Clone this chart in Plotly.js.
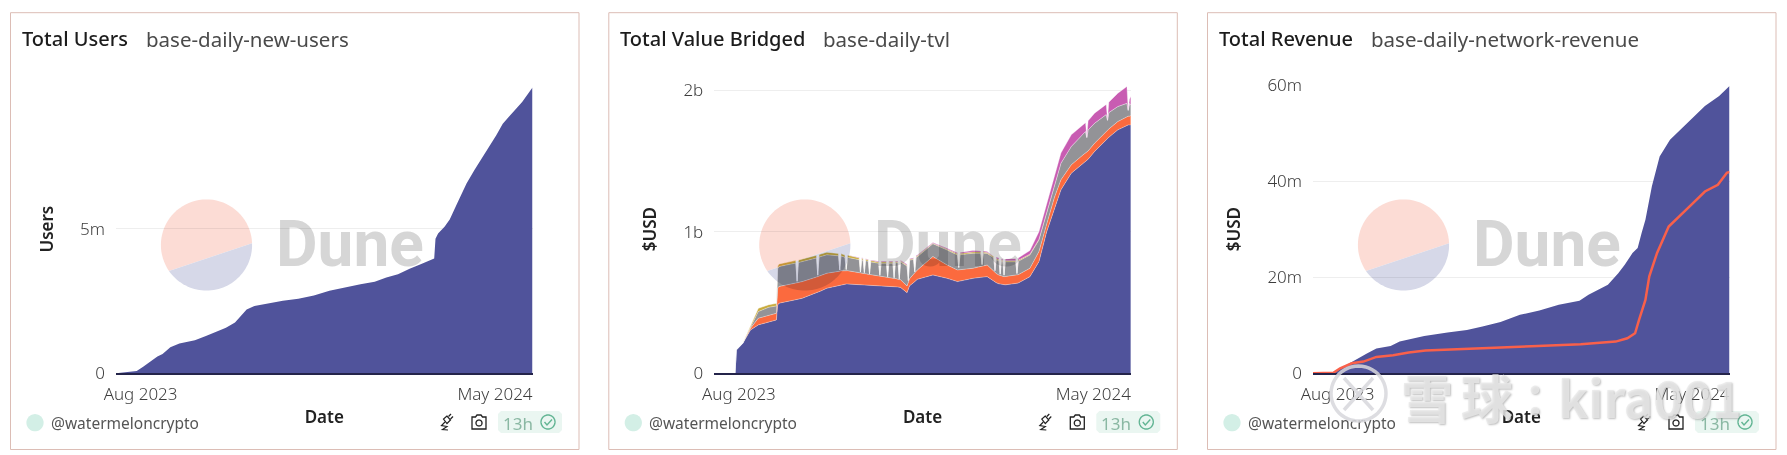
<!DOCTYPE html>
<html>
<head>
<meta charset="utf-8">
<script src="https://cdn.plot.ly/plotly-3.0.1.min.js"></script>
<style>
html, body { margin: 0; padding: 0; background: #fff; }
#wrap { position: relative; width: 1787px; height: 455px; overflow: hidden; }
#bg, #chart, #mark { position: absolute; left: 0; top: 0; width: 1787px; height: 455px; }
#chart { mix-blend-mode: multiply; }
</style>
</head>
<body>
<div id="wrap">
<div id="bg"></div>
<div id="chart"></div>
<div id="mark"></div>
</div>
<script>
// Total Users
const userDates = ['2023-07-13','2023-07-29','2023-08-03','2023-08-09','2023-08-14','2023-08-18','2023-08-24','2023-08-31','2023-09-12','2023-09-21',
    '2023-09-29','2023-10-06','2023-10-13','2023-10-18','2023-10-22','2023-10-28','2023-11-08','2023-11-19','2023-12-01','2023-12-13',
    '2023-12-25','2024-01-06','2024-01-18','2024-01-29','2024-02-07','2024-02-16','2024-02-25','2024-03-05','2024-03-15','2024-03-16',
    '2024-03-18','2024-03-23','2024-03-27','2024-04-01','2024-04-09','2024-04-15','2024-04-23','2024-05-02','2024-05-07','2024-05-15',
    '2024-05-22','2024-05-30'];
const userValues = [0,0.08,0.23,0.43,0.58,0.67,0.90,1.03,1.14,1.30,
    1.46,1.58,1.76,2.02,2.21,2.33,2.42,2.51,2.58,2.69,
    2.86,2.98,3.08,3.17,3.32,3.43,3.62,3.78,3.97,4.66,
    4.84,5.07,5.32,5.81,6.57,7.03,7.58,8.24,8.64,9.04,
    9.39,9.89].map(v => v * 1e6);

// Total Value Bridged, $m per layer
const tvlDates = ['2023-07-29','2023-07-30','2023-08-04','2023-08-10','2023-08-16','2023-08-24','2023-08-30','2023-08-31','2023-09-01','2023-09-14',
    '2023-09-15','2023-09-16','2023-09-19','2023-09-30','2023-10-01','2023-10-02','2023-10-08','2023-10-17','2023-10-18','2023-10-19',
    '2023-10-22','2023-10-23','2023-10-24','2023-11-02','2023-11-03','2023-11-04','2023-11-05','2023-11-06','2023-11-07','2023-11-09',
    '2023-11-10','2023-11-11','2023-11-17','2023-11-18','2023-11-19','2023-11-23','2023-11-24','2023-11-25','2023-11-28','2023-11-29',
    '2023-11-30','2023-12-02','2023-12-03','2023-12-04','2023-12-09','2023-12-10','2023-12-11','2023-12-14','2023-12-15','2023-12-16',
    '2023-12-17','2023-12-29','2024-01-09','2024-01-17','2024-01-18','2024-01-19','2024-01-29','2024-02-04','2024-02-05','2024-02-06',
    '2024-02-09','2024-02-14','2024-02-15','2024-02-16','2024-02-18','2024-02-19','2024-02-20','2024-02-21','2024-02-22','2024-02-23',
    '2024-03-02','2024-03-03','2024-03-04','2024-03-13','2024-03-20','2024-03-26','2024-04-01','2024-04-06','2024-04-14','2024-04-23',
    '2024-04-25','2024-04-26','2024-04-27','2024-05-02','2024-05-11','2024-05-12','2024-05-13','2024-05-20','2024-05-26','2024-05-27',
    '2024-05-28','2024-05-29','2024-05-30'];
const tvlBlue = [0,165,212,306,342,365,377,483,495,520,
    522,523,530,570,573,576,601,622,624,626,
    630,631,631,627,627,627,626,626,625,624,
    624,623,620,619,618,616,615,615,613,612,
    612,610,608,607,570,603,618,640,650,658,
    664,695,671,648,650,652,671,678,680,681,
    683,652,645,640,632,630,628,624,624,625,
    635,636,638,683,789,1001,1166,1296,1414,1484,
    1500,1506,1512,1567,1649,1658,1667,1720,1750,1755,
    1755,1755,1755];
const tvlOrange = [0,0,0,12,47,47,47,120,118,118,
    118,118,118,110,110,110,106,98,98,98,
    94,94,94,84,82,82,80,80,78,76,
    74,74,68,68,68,64,62,62,59,58,
    58,54,54,54,47,47,50,60,62,64,
    66,130,94,82,82,80,71,76,78,80,
    82,70,68,65,62,60,60,59,59,59,
    59,59,59,59,71,54,78,71,59,59,
    59,59,59,59,59,59,59,59,59,59,
    62,62,66];
const tvlGray = [0,0,0,5,47,54,52,135,141,141,
    10,141,141,135,10,135,130,110,8,105,
    96,8,94,92,6,92,92,5,92,92,
    5,90,90,5,92,98,5,100,106,5,
    110,118,5,126,141,5,130,105,5,98,
    94,90,106,106,15,106,106,95,10,88,
    82,95,10,98,102,10,104,106,10,104,
    94,10,94,94,82,75,87,118,130,153,
    150,100,148,141,120,70,116,106,96,94,
    40,90,75];
const tvlYellow = [0,0,0,7,24,19,19,20,19,19,
    0,19,19,19,0,19,19,17,0,17,
    16,0,16,12,0,12,12,0,10,10,
    0,10,8,0,8,8,0,8,8,0,
    6,6,0,6,6,0,6,6,0,6,
    6,4,6,8,0,8,9,8,0,8,
    6,8,0,8,8,0,8,8,0,8,
    8,0,8,6,5,3,0,0,0,0,
    0,0,0,0,0,0,0,0,0,0,
    0,0,0];
const tvlMagenta = [0,0,0,0,0,0,0,0,0,0,
    0,0,0,0,0,0,0,0,0,0,
    0,0,0,4,0,4,4,0,4,4,
    0,4,6,0,6,6,0,6,6,0,
    6,6,0,6,6,0,6,6,0,6,
    6,5,6,8,0,8,10,8,0,8,
    8,0,9,10,10,0,10,11,0,12,
    14,0,16,25,54,63,71,71,82,59,
    62,5,65,71,72,5,74,94,116,118,
    5,30,59];

// Total Revenue, $m
const revenueDates = ['2023-07-13','2023-07-29','2023-08-02','2023-08-09','2023-08-18','2023-08-24','2023-08-31','2023-09-11','2023-09-18','2023-09-29',
    '2023-10-07','2023-10-25','2023-11-09','2023-11-21','2023-12-05','2023-12-20','2024-01-04','2024-01-19','2024-02-04','2024-02-11',
    '2024-02-26','2024-03-05','2024-03-10','2024-03-16','2024-03-20','2024-03-23','2024-03-26','2024-03-31','2024-04-06','2024-04-14',
    '2024-04-26','2024-05-11','2024-05-22','2024-05-30'];
const revenueValues = [0,0,0.84,1.95,3.34,4.18,5.15,5.71,6.61,7.31,
    7.80,8.49,9.05,9.74,10.72,12.18,13.09,14.27,15.10,16.36,
    18.45,20.88,22.62,25.06,26.1,29.2,32.0,39.0,45.2,48.7,
    51.8,55.7,57.8,59.9].map(v => v * 1e6);
const profitDates = ['2023-07-13','2023-07-29','2023-08-03','2023-08-12','2023-08-21','2023-08-31','2023-09-13','2023-09-25','2023-10-08','2023-10-30',
    '2023-11-29','2023-12-29','2024-02-05','2024-03-03','2024-03-12','2024-03-18','2024-03-21','2024-03-26','2024-03-29','2024-04-04',
    '2024-04-13','2024-04-23','2024-04-28','2024-05-11','2024-05-21','2024-05-28','2024-05-30'];
const profitValues = [0,0.14,1.04,2.09,2.44,3.41,3.76,4.32,4.73,5.01,
    5.29,5.64,6.05,6.61,7.31,8.35,11.1,15.3,20.2,25.1,
    30.6,33.1,34.5,37.9,39.3,41.8,42.0].map(v => v * 1e6);

const W = 1787, H = 455;
const panelShift = [0, 598.3, 1197];
const titles = [['Total Users', 'base-daily-new-users', 143.5],
    ['Total Value Bridged', 'base-daily-tvl', 222.4],
    ['Total Revenue', 'base-daily-network-revenue', 171.7]];
const BLUE = '#50539b', ORANGE = '#fb6a3e', FONT = '"Noto Sans", sans-serif';

function px(x) { return x / W; }
function py(y) { return 1 - y / H; }

function pathOf(points, close) {
    let s = points.map((p, i) => (i ? 'L' : 'M') + px(p[0]).toFixed(5) + ' ' + py(p[1]).toFixed(5)).join(' ');
    return close ? s + ' Z' : s;
}

function arcPoints(cx, cy, r, from, to) {
    let pts = [];
    for (let i = 0; i <= 48; i++) {
        let a = from + (to - from) * i / 48;
        pts.push([cx + r * Math.cos(a), cy + r * Math.sin(a)]);
    }
    return pts;
}

function paperShape(path, fill, line, width) {
    return { type: 'path', xref: 'paper', yref: 'paper', path: path, fillcolor: fill || 'rgba(0,0,0,0)',
        line: { color: line || 'rgba(0,0,0,0)', width: width || 0 } };
}

function label(x, y, text, size, color, anchor, weight, family) {
    return { xref: 'paper', yref: 'paper', x: px(x), y: py(y), text: text, showarrow: false, xanchor: anchor || 'left', yanchor: 'middle',
        font: { family: family || FONT, size: size, color: color, weight: weight || 400 } };
}

// logo, Dune word and card borders sit in a graph behind the traces
let bgShapes = [], bgNotes = [];
panelShift.forEach(function (dx) {
    bgShapes.push({ type: 'rect', xref: 'paper', yref: 'paper', x0: px(10.5 + dx), x1: px(579 + dx), y0: py(449.5), y1: py(12.7),
        fillcolor: '#fff', line: { color: '#dcbdb5', width: 1 } });
    let cx = 206.5 + dx, cy = 245, r = 45.6;
    let a0 = Math.atan2(25, -36.2), a1 = Math.atan2(-1.7, 45.3);
    bgShapes.push(paperShape(pathOf(arcPoints(cx, cy, r, a0, a1 + Math.PI * 2), true), '#fcdcd5'));
    bgShapes.push(paperShape(pathOf(arcPoints(cx, cy, r, a1, a0), true), '#d6d8e8'));
    bgNotes.push(label(350 + dx, 244, 'Dune', 64, '#d6d6d6', 'center', 700, 'Roboto, sans-serif'));
});

Plotly.newPlot('bg', [], {
    width: W, height: H, margin: { l: 0, r: 0, t: 0, b: 0 }, paper_bgcolor: '#fff', plot_bgcolor: 'rgba(0,0,0,0)',
    xaxis: { visible: false }, yaxis: { visible: false }, shapes: bgShapes, annotations: bgNotes, showlegend: false
}, { staticPlot: true, displayModeBar: false });

function makeXAxis(i) {
    let dx = panelShift[i];
    return {
        domain: [px(116 + dx), px(532.5 + dx)], anchor: i ? 'y' + (i + 1) : 'y', type: 'date',
        range: ['2023-07-13', '2024-05-30'], tickmode: 'array',
        tickvals: ['2023-08-01', '2024-05-01'], ticktext: ['Aug 2023', 'May 2024'], tickangle: 0,
        ticklabelstandoff: 5, tickfont: { family: FONT, size: 17, color: '#3d3d3d', weight: 300 },
        showgrid: false, zeroline: false, showline: true, linecolor: '#24244a', linewidth: 1.5, ticks: '',
        title: { text: 'Date', standoff: 7, font: { family: FONT, size: 17, color: '#222', weight: 600 } }
    };
}

function makeYAxis(i, title, top, vals, text) {
    return {
        domain: [py(373.3), py(85)], anchor: i ? 'x' + (i + 1) : 'x', range: [0, top], tickmode: 'array',
        tickvals: vals, ticktext: text, ticklabelstandoff: 10, tickfont: { family: FONT, size: 17, color: '#3d3d3d', weight: 300 },
        showgrid: true, gridcolor: '#eeeeee', gridwidth: 1, zeroline: false, showline: false, ticks: '',
        title: { text: title, standoff: 22, font: { family: FONT, size: 17, color: '#222', weight: 600 } }
    };
}

function area(x, y, xa, ya, color, name, stack) {
    return { x: x, y: y, xaxis: xa, yaxis: ya, type: 'scatter', mode: 'lines', name: name, stackgroup: stack,
        fillcolor: color, line: { color: stack === 'tvl' ? 'rgba(255,255,255,0.55)' : color, width: stack === 'tvl' ? 0.6 : 0 } };
}

const m = v => v * 1e6;
let traces = [
    area(userDates, userValues, 'x', 'y', BLUE, 'Users', 'users'),
    area(tvlDates, tvlBlue.map(m), 'x2', 'y2', BLUE, 'Canonical', 'tvl'),
    area(tvlDates, tvlOrange.map(m), 'x2', 'y2', ORANGE, 'Native', 'tvl'),
    area(tvlDates, tvlGray.map(m), 'x2', 'y2', '#939397', 'Third party', 'tvl'),
    area(tvlDates, tvlYellow.map(m), 'x2', 'y2', '#c9ac3e', 'Other', 'tvl'),
    area(tvlDates, tvlMagenta.map(m), 'x2', 'y2', '#c85cb2', 'Restaked', 'tvl'),
    area(revenueDates, revenueValues, 'x3', 'y3', BLUE, 'Revenue', 'rev'),
    { x: profitDates, y: profitValues, xaxis: 'x3', yaxis: 'y3', type: 'scatter', mode: 'lines', name: 'Profit',
        line: { color: '#f9604a', width: 2.5 } }
];

let shapes = [], notes = [];
titles.forEach(function (t, i) {
    let dx = panelShift[i];
    notes.push(label(20 + dx, 38.5, t[0], 20, '#1c1c1c', 'left', 500));
    notes.push(label(t[2] + dx, 38.5, t[1], 20.5, '#4a4a4a'));
    notes.push(label(48.5 + dx, 423, '@watermeloncrypto', 15.5, '#555'));
    notes.push(label(501 + dx, 423, '13h', 17, '#8ab8a3'));
    shapes.push(paperShape(pathOf(arcPoints(35 + dx, 422.7, 8.6, 0, Math.PI * 2), true), '#d3efe6'));
    // freshness pill
    shapes.push(paperShape(pathOf([[501 + dx, 411], [559 + dx, 411], [562 + dx, 414], [562 + dx, 430], [559 + dx, 433], [501 + dx, 433], [498 + dx, 430], [498 + dx, 414]], true), '#eaf6f1'));
    shapes.push(paperShape(pathOf(arcPoints(548 + dx, 422, 7, 0, Math.PI * 2), true), null, '#63b594', 1.4));
    shapes.push(paperShape(pathOf([[544.5 + dx, 422], [547 + dx, 425], [552 + dx, 419.5]]), null, '#63b594', 1.4));
    // camera
    shapes.push(paperShape(pathOf([[472 + dx, 417], [475.5 + dx, 417], [477 + dx, 415], [481 + dx, 415], [482.5 + dx, 417], [486 + dx, 417], [486 + dx, 429], [472 + dx, 429]], true), null, '#222', 1.3));
    shapes.push(paperShape(pathOf(arcPoints(479 + dx, 423, 3, 0, Math.PI * 2), true), null, '#222', 1.3));
    // plug
    shapes.push(paperShape(pathOf([[447 + dx, 416], [443.5 + dx, 419], [447 + dx, 423.5], [450.5 + dx, 420]], true), '#fff', '#222', 1.2));
    shapes.push(paperShape(pathOf([[451 + dx, 414], [448.5 + dx, 416.5]]), null, '#222', 1.2));
    shapes.push(paperShape(pathOf([[453 + dx, 416.5], [450.5 + dx, 419]]), null, '#222', 1.2));
    shapes.push(paperShape(pathOf([[445 + dx, 422], [441.5 + dx, 425.5], [447 + dx, 426.5], [442.5 + dx, 429.5], [448 + dx, 430]]), null, '#222', 1.2));
});

let layout = {
    width: W, height: H, margin: { l: 0, r: 0, t: 0, b: 0 }, paper_bgcolor: 'rgba(0,0,0,0)', plot_bgcolor: 'rgba(0,0,0,0)',
    showlegend: false, hovermode: false, shapes: shapes, annotations: notes,
    xaxis: makeXAxis(0), xaxis2: makeXAxis(1), xaxis3: makeXAxis(2),
    yaxis: makeYAxis(0, 'Users', 9.98e6, [0, 5e6], ['0', '5m']),
    yaxis2: makeYAxis(1, '$USD', 2.037e9, [0, 1e9, 2e9], ['0', '1b', '2b']),
    yaxis3: makeYAxis(2, '$USD', 60.1e6, [0, 20e6, 40e6, 60e6], ['0', '20m', '40m', '60m'])
};

Plotly.newPlot('chart', traces, layout, { staticPlot: true, displayModeBar: false });

// site watermark across the third card, on its own layer so it stays light over the marks
const markFont = '"Noto Sans CJK SC", "Noto Sans", sans-serif';
const markColor = 'rgba(232,232,232,0.8)';
function markText(x, text, size) {
    let a = label(x, 396, text, size, markColor, 'left', 700, markFont);
    a.font.shadow = '1px 1px 2px rgba(120,120,120,0.6)';
    return a;
}
Plotly.newPlot('mark', [], {
    width: W, height: H, margin: { l: 0, r: 0, t: 0, b: 0 }, paper_bgcolor: 'rgba(0,0,0,0)', plot_bgcolor: 'rgba(0,0,0,0)',
    xaxis: { visible: false }, yaxis: { visible: false }, showlegend: false,
    annotations: [markText(1399, '雪', 52), markText(1459, '球', 52), markText(1522, '：', 44), markText(1556, 'kira001', 50)],
    shapes: [
        paperShape(pathOf(arcPoints(1358.5, 393.5, 27.5, 0, Math.PI * 2), true), null, 'rgba(215,215,220,0.85)', 3.5),
        paperShape(pathOf([[1344, 378], [1373, 410]]), null, 'rgba(215,215,220,0.85)', 3.5),
        paperShape(pathOf([[1373, 378], [1344, 410]]), null, 'rgba(215,215,220,0.85)', 3.5)
    ]
}, { staticPlot: true, displayModeBar: false });
</script>
</body>
</html>
